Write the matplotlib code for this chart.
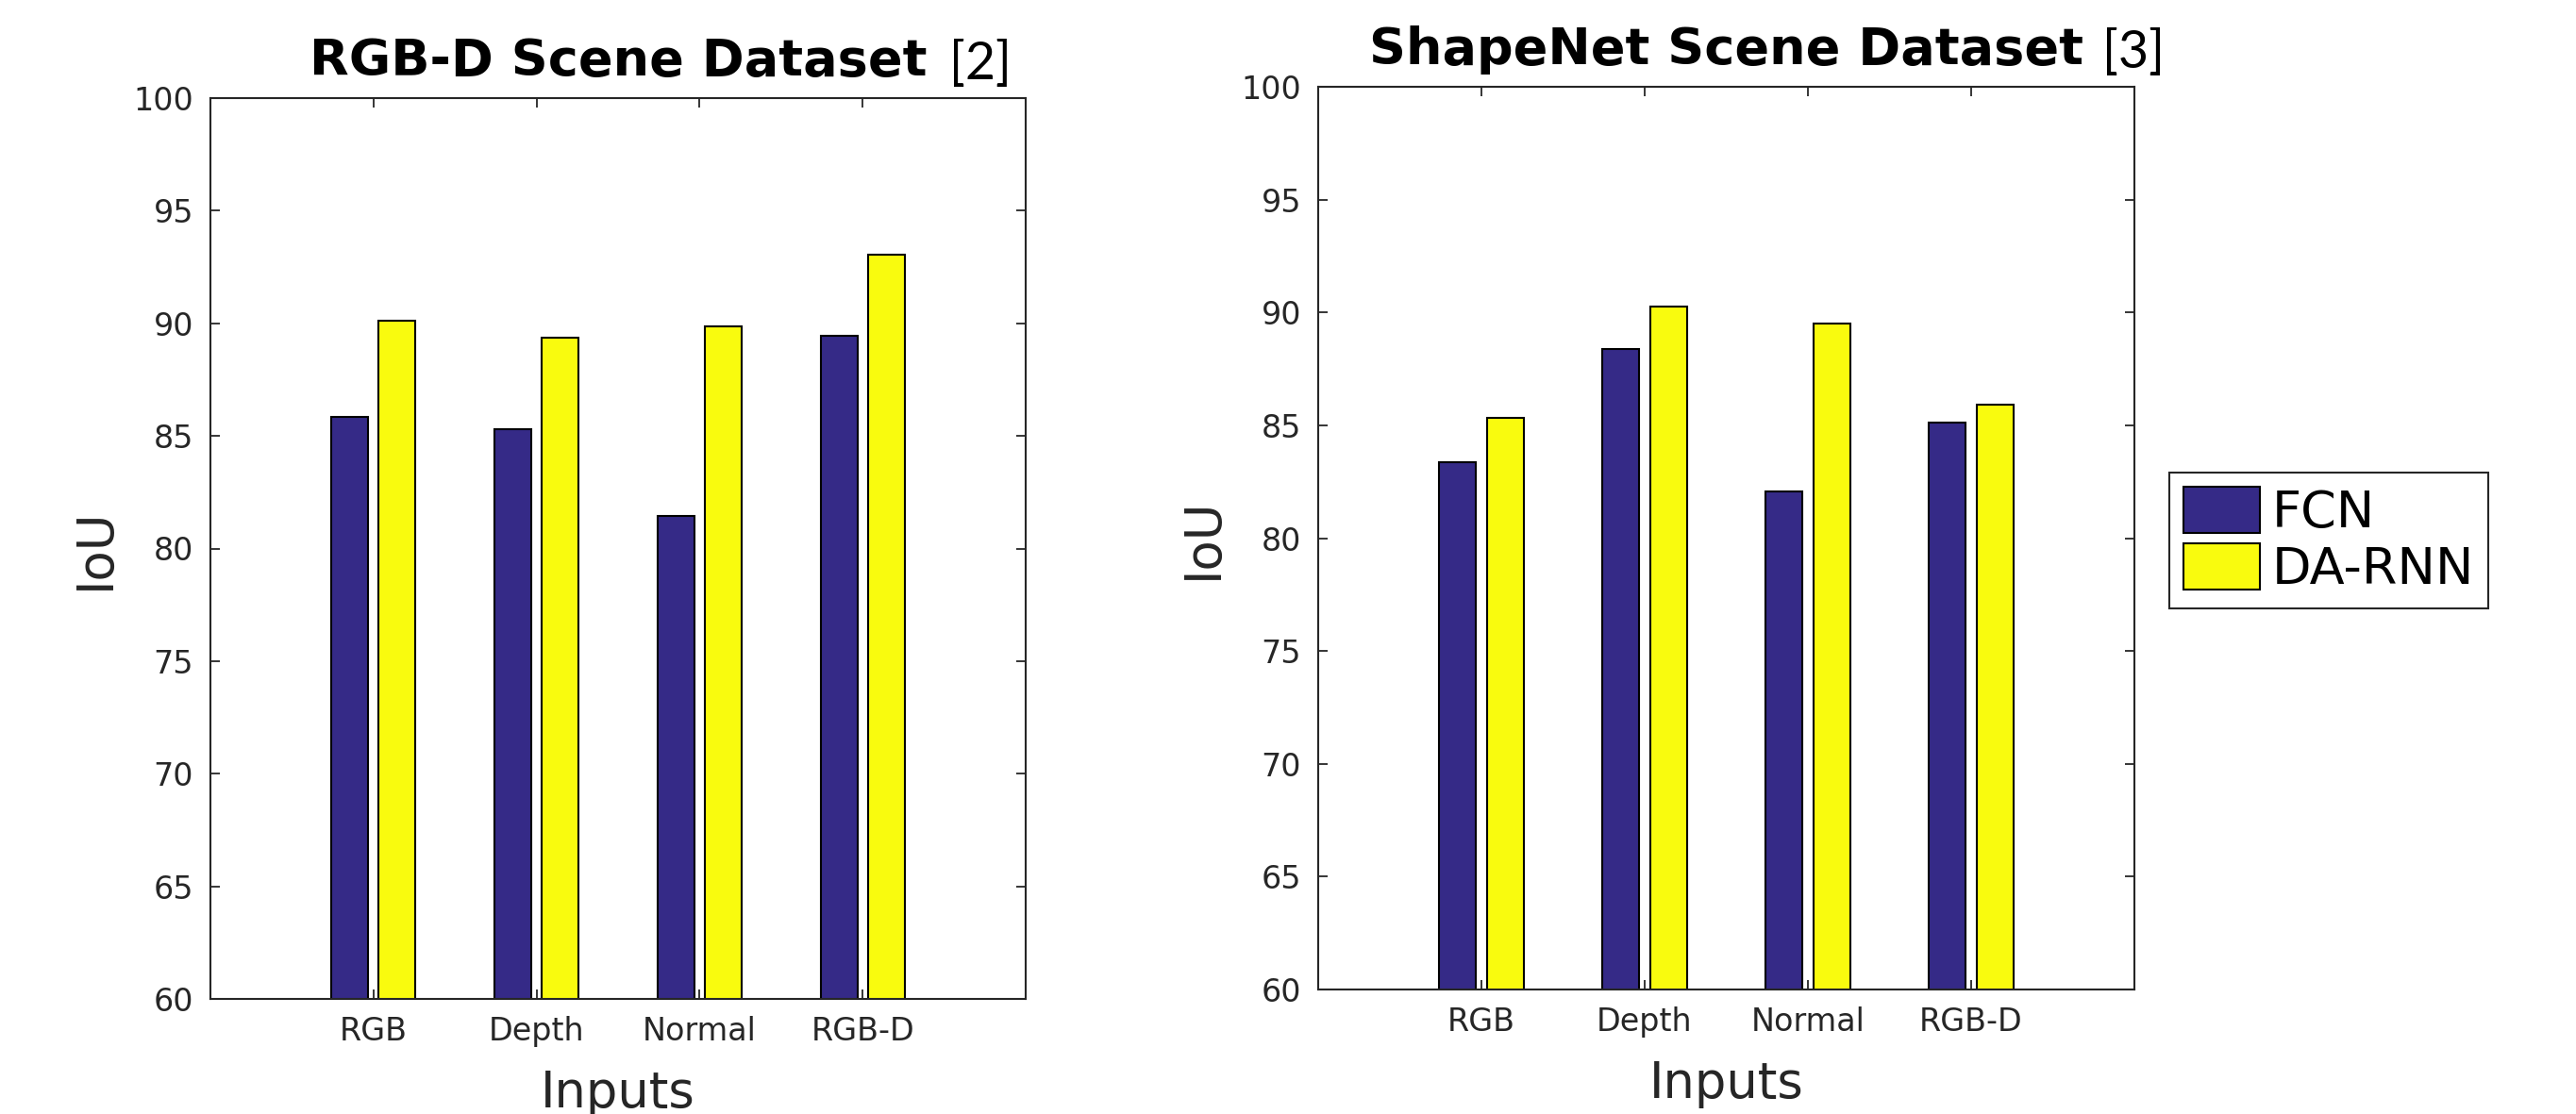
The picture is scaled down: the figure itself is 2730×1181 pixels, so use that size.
import matplotlib
matplotlib.use("Agg")
import matplotlib.pyplot as plt
import numpy as np
from matplotlib.patches import Patch

categories = ["RGB", "Depth", "Normal", "RGB-D"]
series_names = ["FCN", "DA-RNN"]
rgbd_fcn = [85.85, 85.3, 81.45, 89.45]
rgbd_darnn = [90.1, 89.35, 89.85, 93.05]
shapenet_fcn = [83.35, 88.4, 82.05, 85.1]
shapenet_darnn = [85.35, 90.25, 89.5, 85.9]
yticks = [60, 65, 70, 75, 80, 85, 90, 95, 100]
titles = ["RGB-D Scene Dataset", "ShapeNet Scene Dataset"]
refs = ["[2]", "[3]"]

W, H = 2730, 1181
DPI = 100
fig = plt.figure(figsize=(W / DPI, H / DPI), dpi=DPI)
plt.rcParams['font.family'] = ['DejaVu Sans']

BLUE = "#352a87"
YELLOW = "#f9fb0e"
AXC = "#262626"

# axes rectangles in pixels (left, top, right, bottom)
rects = [(223, 104, 1087, 1059), (1397, 92, 2262, 1049)]
data = [(rgbd_fcn, rgbd_darnn), (shapenet_fcn, shapenet_darnn)]

x = np.arange(1, len(categories) + 1)
bw = 0.225
off = 0.145

title_texts = []
for (l, t, r, b), (fcn, darnn), title in zip(rects, data, titles):
    ax = fig.add_axes([l / W, 1 - b / H, (r - l) / W, (b - t) / H])
    ax.bar(x - off, fcn, bw, color=BLUE, edgecolor="black", linewidth=1.5, zorder=2)
    ax.bar(x + off, darnn, bw, color=YELLOW, edgecolor="black", linewidth=1.5, zorder=2)
    ax.set_xlim(0, 5)
    ax.set_ylim(60, 100)
    ax.set_yticks(yticks)
    ax.set_xticks(x)
    ax.set_xticklabels(categories)
    ax.tick_params(direction="in", length=7, width=1.3, colors=AXC,
                   labelsize=24, top=True, right=True)
    ax.tick_params(axis="x", pad=13)
    ax.tick_params(axis="y", pad=13)
    for s in ax.spines.values():
        s.set_color(AXC)
        s.set_linewidth(1.5)
    cx = (l + r) / 2
    # y label
    fig.text((l - 122) / W, 1 - ((t + b) / 2) / H, "IoU", rotation=90,
             ha="center", va="center", fontsize=38, color=AXC)
    # x label
    fig.text(cx / W, 1 - (b + 115) / H, "Inputs", ha="center", va="baseline",
             fontsize=38, color=AXC)
    tt = fig.text(cx / W, 1 - (t - 24) / H, title, ha="center", va="baseline",
                  fontsize=39, fontweight="bold", color="black")
    title_texts.append(tt)

fig.canvas.draw()
renderer = fig.canvas.get_renderer()
for tt, ref, gap in zip(title_texts, refs, [24, 20]):
    bb = tt.get_window_extent(renderer)
    fig.text((bb.x1 + gap) / W, tt.get_position()[1] - 4 / H, ref, ha="left", va="baseline",
             fontsize=40, family=["Lato", "DejaVu Sans"], color="black")

handles = [Patch(facecolor=BLUE, edgecolor="black", linewidth=1.5),
           Patch(facecolor=YELLOW, edgecolor="black", linewidth=1.5)]
leg = fig.legend(handles, series_names, loc="upper left",
                 bbox_to_anchor=(2299 / W, 1 - 501 / H), bbox_transform=fig.transFigure,
                 fontsize=39, frameon=True, fancybox=False, framealpha=1,
                 edgecolor=AXC, handlelength=1.5, handleheight=1.0,
                 handletextpad=0.22, labelspacing=0.12, borderpad=0.28, borderaxespad=0)
leg.get_frame().set_linewidth(1.5)

fig.savefig("out.png", dpi=DPI)
